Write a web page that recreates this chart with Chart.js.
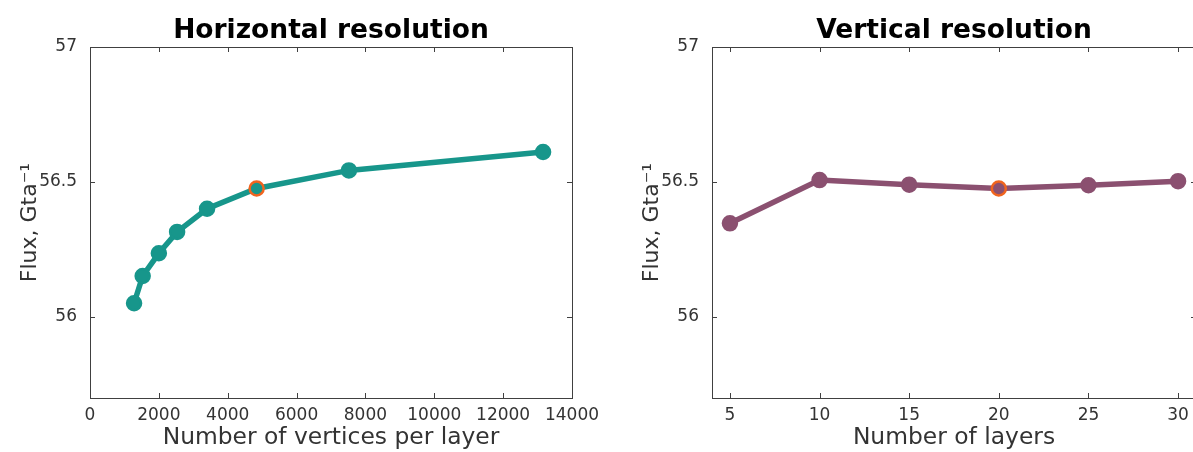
<!DOCTYPE html>
<html>
<head>
<meta charset="utf-8">
<script src="https://cdn.jsdelivr.net/npm/chart.js@4"></script>
<style>
  body { margin: 0; width: 1193px; height: 452px; overflow: hidden; background: #fff; position: relative; }
  .panel { position: absolute; top: 0; height: 452px; }
  #left { left: 0; width: 610px; }
  #right { left: 622px; width: 610px; }
</style>
</head>
<body>
<div class="panel" id="left"><canvas id="hChart"></canvas></div>
<div class="panel" id="right"><canvas id="vChart"></canvas></div>
<script>
// horizontal resolution run
const vertexCounts = [1280, 1530, 2000, 2530, 3400, 4840, 7520, 13160];
const fluxHorizontal = [56.051, 56.152, 56.236, 56.315, 56.401, 56.476, 56.543, 56.611];
const vertexTicks = [0, 2000, 4000, 6000, 8000, 10000, 12000, 14000];

// vertical resolution run
const layerCounts = [5, 10, 15, 20, 25, 30];
const fluxVertical = [56.347, 56.507, 56.490, 56.476, 56.488, 56.503];
const layerTicks = [5, 10, 15, 20, 25, 30];

const fluxTicks = [56, 56.5, 57];

// index of the reference run (orange ring)
const refHorizontal = 5;
const refVertical = 3;

const FONT = "'DejaVu Sans', sans-serif";
const AXIS_COLOR = '#404040';
const ORANGE = '#f0641e';

// box around plot area with inward ticks, matlab style
const boxPlugin = {
    id: 'box',
    beforeDatasetsDraw(chart) {
        const {ctx, chartArea: a, scales} = chart;
        const len = 5;
        ctx.save();
        ctx.strokeStyle = AXIS_COLOR;
        ctx.lineWidth = 1;
        ctx.strokeRect(a.left + 0.5, a.top + 0.5, a.right - a.left, a.bottom - a.top);
        ctx.beginPath();
        scales.x.ticks.forEach(t => {
            const px = Math.round(scales.x.getPixelForValue(t.value)) + 0.5;
            ctx.moveTo(px, a.bottom); ctx.lineTo(px, a.bottom - len);
            ctx.moveTo(px, a.top); ctx.lineTo(px, a.top + len);
        });
        scales.y.ticks.forEach(t => {
            const py = Math.round(scales.y.getPixelForValue(t.value)) + 0.5;
            ctx.moveTo(a.left, py); ctx.lineTo(a.left + len, py);
            ctx.moveTo(a.right, py); ctx.lineTo(a.right - len, py);
        });
        ctx.stroke();
        ctx.restore();
    }
};

// title centred over the plot area instead of the whole canvas
const panelTitle = {
    id: 'panelTitle',
    afterDraw(chart, args, opts) {
        const {ctx, chartArea: a} = chart;
        ctx.save();
        ctx.fillStyle = '#000';
        ctx.font = 'bold 26.5px ' + FONT;
        ctx.textAlign = 'center';
        ctx.textBaseline = 'alphabetic';
        ctx.fillText(opts.text, (a.left + a.right) / 2, 38);
        ctx.restore();
    }
};

function makeChart(id, title, xs, ys, xTicks, xMin, xMax, xLabel, color, refIdx, padRight) {
    const points = xs.map((x, i) => ({x: x, y: ys[i]}));
    return new Chart(document.getElementById(id), {
        type: 'line',
        data: {
            datasets: [{
                data: points,
                borderColor: color,
                borderWidth: 5.5,
                pointRadius: 7,
                pointHoverRadius: 7,
                pointBackgroundColor: color,
                pointBorderColor: xs.map((x, i) => i === refIdx ? ORANGE : color),
                pointBorderWidth: 2.5,
                tension: 0
            }]
        },
        options: {
            responsive: true,
            maintainAspectRatio: false,
            animation: false,
            events: [],
            layout: { padding: { top: 47, right: padRight, bottom: 0, left: 0 } },
            plugins: {
                legend: { display: false },
                tooltip: { enabled: false },
                title: { display: false },
                panelTitle: { text: title }
            },
            scales: {
                x: {
                    type: 'linear',
                    min: xMin,
                    max: xMax,
                    afterBuildTicks: s => { s.ticks = xTicks.map(v => ({value: v})); },
                    afterFit: s => { s.height = 54; },
                    grid: { display: false, drawTicks: false },
                    border: { display: false },
                    ticks: {
                        color: '#333',
                        font: { family: FONT, size: 17 },
                        padding: 7,
                        maxRotation: 0,
                        autoSkip: false,
                        callback: v => v
                    },
                    title: {
                        display: true,
                        text: xLabel,
                        color: '#333',
                        font: { family: FONT, size: 23.4 },
                        padding: { top: 0, bottom: 0 }
                    }
                },
                y: {
                    min: 55.7,
                    max: 57,
                    afterBuildTicks: s => { s.ticks = fluxTicks.map(v => ({value: v})); },
                    afterFit: s => { s.width = 90; },
                    grid: { display: false, drawTicks: false },
                    border: { display: false },
                    ticks: {
                        color: '#333',
                        font: { family: FONT, size: 17 },
                        padding: 13,
                        callback: v => v
                    },
                    title: {
                        display: true,
                        text: 'Flux, Gta\u207B\u00B9',
                        color: '#333',
                        font: { family: FONT, size: 22 },
                        padding: { top: 17, bottom: 0 }
                    }
                }
            }
        },
        plugins: [boxPlugin, panelTitle]
    });
}

makeChart('hChart', 'Horizontal resolution', vertexCounts, fluxHorizontal, vertexTicks,
    0, 14000, 'Number of vertices per layer', '#17968b', refHorizontal, 38);
makeChart('vChart', 'Vertical resolution', layerCounts, fluxVertical, layerTicks,
    4, 31, 'Number of layers', '#8b5070', refVertical, 36);
</script>
</body>
</html>
